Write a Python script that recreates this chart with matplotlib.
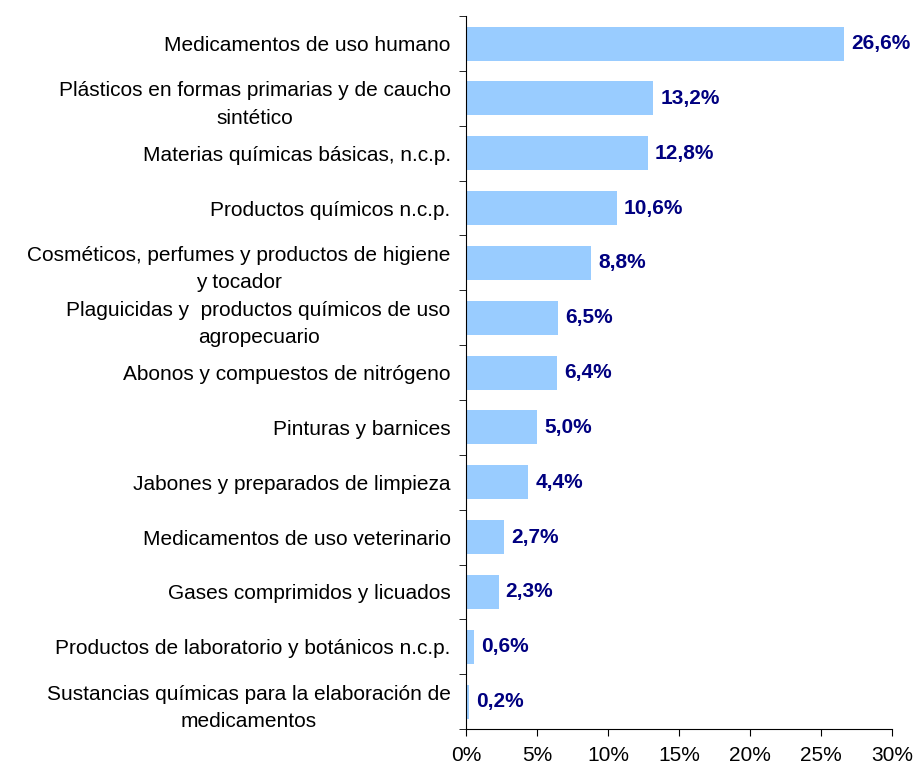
import matplotlib.pyplot as plt
import numpy as np

categories = [
    "Medicamentos de uso humano",
    "Plásticos en formas primarias y de caucho\nsintético",
    "Materias químicas básicas, n.c.p.",
    "Productos químicos n.c.p.",
    "Cosméticos, perfumes y productos de higiene\ny tocador",
    "Plaguicidas y  productos químicos de uso\nagropecuario",
    "Abonos y compuestos de nitrógeno",
    "Pinturas y barnices",
    "Jabones y preparados de limpieza",
    "Medicamentos de uso veterinario",
    "Gases comprimidos y licuados",
    "Productos de laboratorio y botánicos n.c.p.",
    "Sustancias químicas para la elaboración de\nmedicamentos",
]
values = [26.6, 13.2, 12.8, 10.6, 8.8, 6.5, 6.4, 5.0, 4.4, 2.7, 2.3, 0.6, 0.2]
xticks = [0, 5, 10, 15, 20, 25, 30]

plt.rcParams["font.family"] = ["Liberation Sans", "DejaVu Sans"]

fig = plt.figure(figsize=(9.16, 7.67), dpi=100)
ax = fig.add_axes([0.5087, 0.0495, 0.4651, 0.9295])

n = len(categories)
y = np.arange(n)
ax.barh(y, values, height=0.62, color="#99ccff", zorder=2)
for yi, v in zip(y, values):
    ax.text(v + 0.5, yi, f"{v:.1f}%".replace(".", ","), va="center", ha="left",
            fontsize=15, fontweight="bold", color="#000080")

ax.set_ylim(n - 0.5, -0.5)
ax.set_xlim(0, 30)
ax.set_yticks(y)
ax.set_yticklabels(categories, fontsize=15, multialignment="center", linespacing=1.55)
ax.set_yticks(np.arange(n + 1) - 0.5, minor=True)
ax.tick_params(axis="y", which="major", length=0, pad=11)
ax.tick_params(axis="y", which="minor", length=5, direction="out")

ax.set_xticks(xticks)
ax.set_xticklabels([f"{t}%" for t in xticks], fontsize=15)
ax.tick_params(axis="x", length=5, direction="out", pad=7)

for s in ["top", "right"]:
    ax.spines[s].set_visible(False)

fig.savefig("out.png", dpi=100)
